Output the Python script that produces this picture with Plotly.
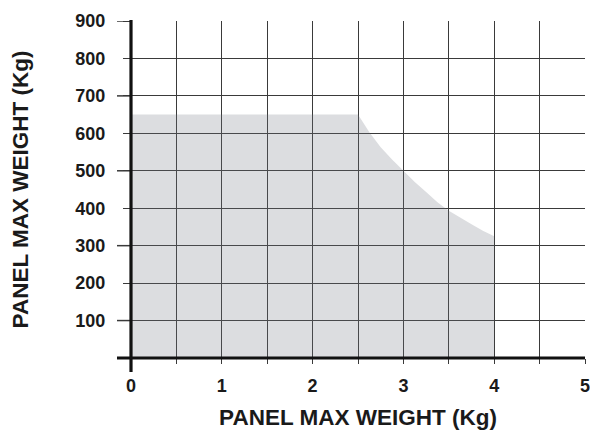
import plotly.graph_objects as go

# Data: load envelope (panel length vs max weight)
x_vals = [0, 2.5, 2.625, 2.75, 2.875, 3.0, 3.125, 3.25, 3.375, 3.5, 3.625, 3.75, 3.875, 4.0]
y_vals = [650, 650, 603, 563, 530, 500, 470, 443, 416, 393, 374, 357, 340, 325]

x_ticks = [0, 1, 2, 3, 4, 5]
x_tick_text = ["0", "1", "2", "3", "4", "5"]
y_ticks = [100, 200, 300, 400, 500, 600, 700, 800, 900]
y_tick_text = ["100", "200", "300", "400", "500", "600", "700", "800", "900"]
y_long_ticks = [100, 300, 500, 700, 900]

W, H = 590, 430
ML, MR, MT, MB = 131, 5, 21, 72
PW, PH = W - ML - MR, H - MT - MB

font_family = "Liberation Sans, Arial, Helvetica, sans-serif"
grid_color = "#3a3a3a"

fig = go.Figure()
fig.add_trace(go.Scatter(
    x=x_vals, y=y_vals, mode="lines", fill="tozeroy",
    fillcolor="rgba(115,119,131,0.25)", line=dict(width=0),
    hoverinfo="skip", showlegend=False,
))

shapes = []
for v in y_long_ticks:
    shapes.append(dict(type="line", xref="paper", yref="y",
                       x0=-14 / PW, x1=0, y0=v, y1=v,
                       line=dict(color=grid_color, width=1.5)))
shapes.append(dict(type="line", xref="paper", yref="paper",
                   x0=0, x1=0, y0=-14 / PH, y1=1 + 1 / PH,
                   line=dict(color="#111111", width=3.2)))
shapes.append(dict(type="line", xref="paper", yref="paper",
                   x0=-14 / PW, x1=1, y0=0, y1=0,
                   line=dict(color="#111111", width=3.2)))

fig.update_layout(
    width=W, height=H,
    margin=dict(l=ML, r=MR, t=MT, b=MB, autoexpand=False),
    paper_bgcolor="white", plot_bgcolor="white",
    font=dict(family=font_family, color="#1a1a1a"),
    shapes=shapes,
    xaxis=dict(
        range=[0, 5], tickvals=x_ticks, ticktext=x_tick_text,
        showgrid=True, gridcolor=grid_color, gridwidth=1.4,
        ticks="outside", ticklen=5, tickwidth=1.4, tickcolor=grid_color,
        minor=dict(dtick=0.5, tick0=0, showgrid=True, gridcolor=grid_color,
                   gridwidth=1.4, ticks="outside", ticklen=5, tickwidth=1.4,
                   tickcolor=grid_color),
        tickfont=dict(size=18, weight="bold", color="#1a1a1a"),
        ticklabelstandoff=6, ticklabeloverflow="allow",
        zeroline=False, showline=False, automargin=False,
        title=dict(text="PANEL MAX WEIGHT (Kg)", standoff=17,
                   font=dict(size=22.5, weight="bold", color="#1a1a1a")),
    ),
    yaxis=dict(
        range=[0, 900], tickvals=y_ticks, ticktext=y_tick_text,
        showgrid=True, gridcolor=grid_color, gridwidth=1.4,
        ticks="outside", ticklen=7, tickwidth=1.4, tickcolor=grid_color,
        tickfont=dict(size=18, weight="bold", color="#1a1a1a"),
        ticklabelstandoff=14,
        zeroline=False, showline=False, automargin=False,
        title=dict(text="PANEL MAX WEIGHT (Kg)", standoff=40,
                   font=dict(size=22.5, weight="bold", color="#1a1a1a")),
    ),
)

fig.write_html(
    "out.html",
    config={"displayModeBar": False},
    post_script="document.body.style.margin='0';document.body.style.overflow='hidden';",
)
